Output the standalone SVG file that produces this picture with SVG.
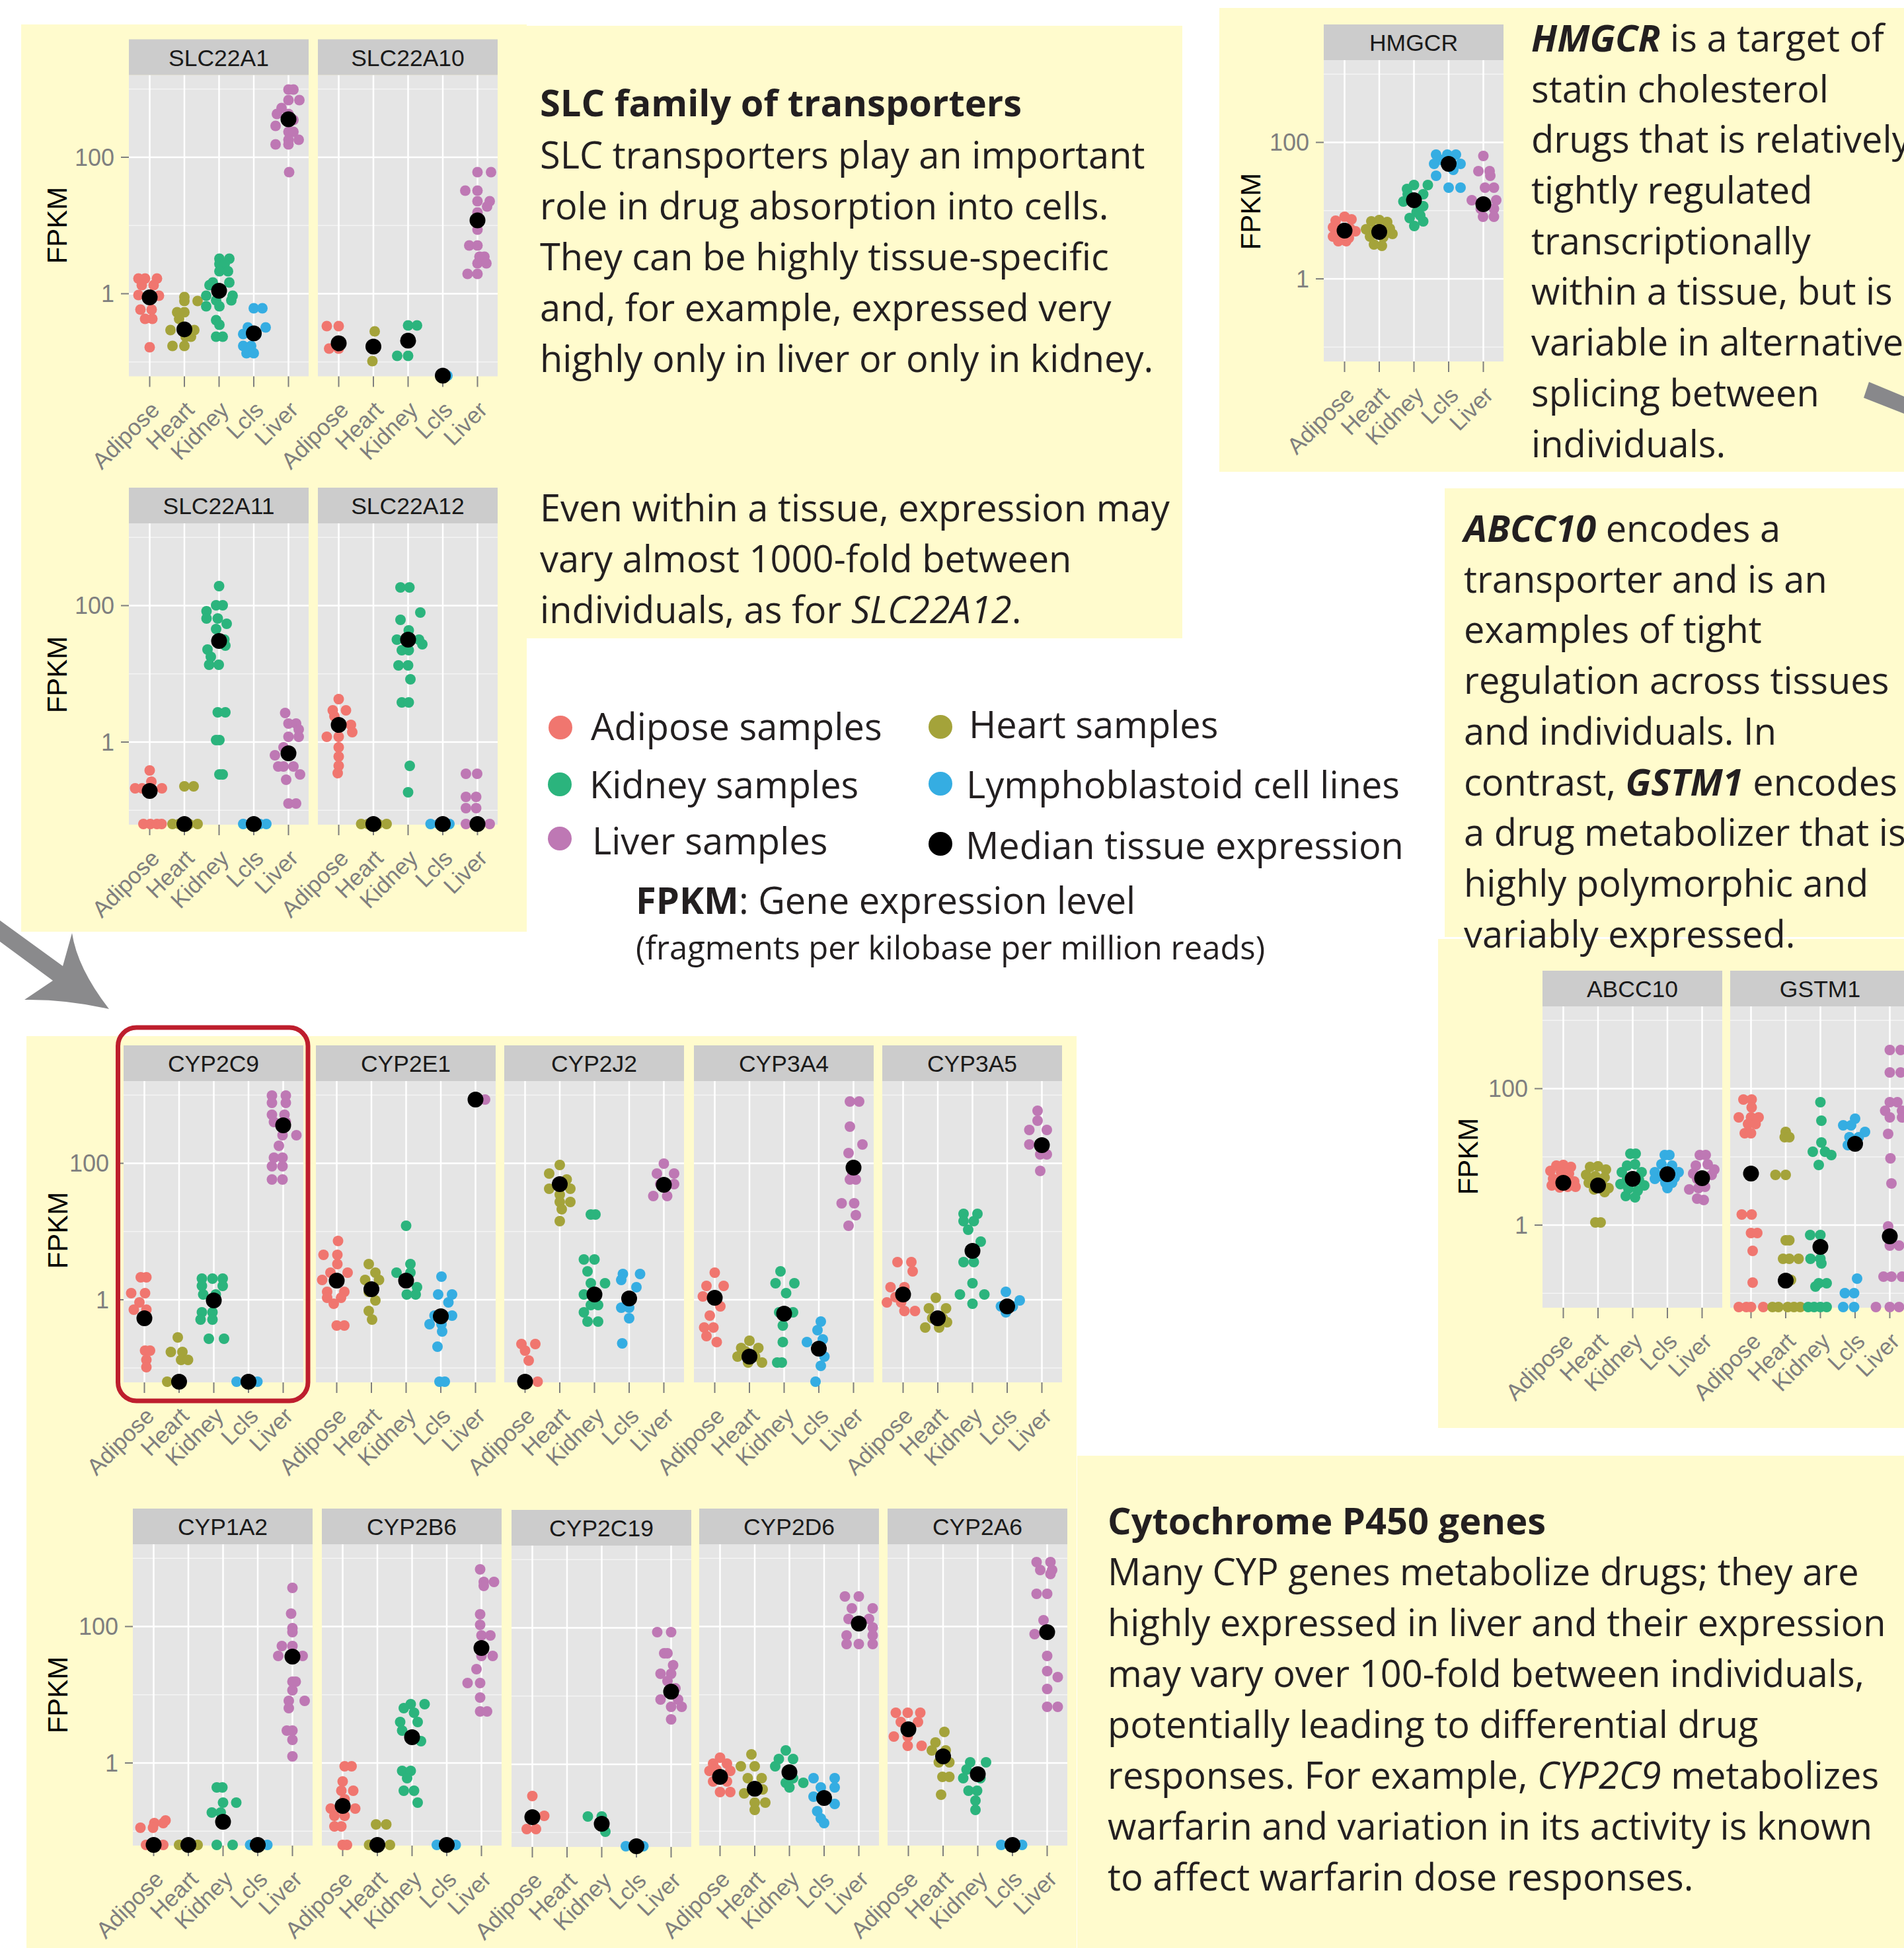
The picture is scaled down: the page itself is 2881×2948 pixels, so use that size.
<svg xmlns="http://www.w3.org/2000/svg" xmlns:xlink="http://www.w3.org/1999/xlink" width="2881" height="2948" viewBox="0 0 2881 2948">
<style>
.bt{font-family:"Open Sans","Liberation Sans",sans-serif;font-size:56px;fill:#231F20}
.b{font-weight:700}
.bi{font-weight:700;font-style:italic}
.i{font-style:italic}
.xt text{font-family:"Liberation Sans",Arial,sans-serif;font-size:35px;fill:#7F7F7F;text-anchor:end}
.yt{font-family:"Liberation Sans",Arial,sans-serif;font-size:36px;fill:#7F7F7F;text-anchor:end}
.st{font-family:"Liberation Sans",Arial,sans-serif;font-size:35.5px;fill:#1A1A1A;text-anchor:middle}
.fp{font-family:"Liberation Sans",Arial,sans-serif;font-size:42px;fill:#000;text-anchor:middle}
.yb{fill:#FFFBCD}
.a{fill:#F0766F}.h{fill:#A4A33A}.k{fill:#2BB47D}.l{fill:#35ADE2}.v{fill:#BE78B4}.m{fill:#000}
</style>
<defs>
<g id="P">
<rect x="0" y="-331" width="272" height="456" fill="#E5E5E5"/>
<path d="M0-309.75H272M0-103.25H272M0 103.25H272" stroke="#F4F4F4" stroke-width="1.3" fill="none"/>
<path d="M0-206.5H272M0 0H272M31.5-331V125M84-331V125M136.5-331V125M189-331V125M241.5-331V125" stroke="#FFFFFF" stroke-width="2.5" fill="none"/>
<rect x="0" y="-385" width="272" height="54" fill="#CCCCCC"/>
<path d="M31.5 125V141M84 125V141M136.5 125V141M189 125V141M241.5 125V141" stroke="#7F7F7F" stroke-width="2"/>
<g class="xt">
<text transform="translate(48.5,178) rotate(-45)">Adipose</text>
<text transform="translate(101,178) rotate(-45)">Heart</text>
<text transform="translate(153.5,178) rotate(-45)">Kidney</text>
<text transform="translate(206,178) rotate(-45)">Lcls</text>
<text transform="translate(258.5,178) rotate(-45)">Liver</text>
</g>
</g>
<g id="Y">
<path d="M-12-206.5H0M-12 0H0" stroke="#7F7F7F" stroke-width="2"/>
<text class="yt" x="-22" y="-194">100</text>
<text class="yt" x="-22" y="12.5">1</text>
</g>
</defs>
<rect width="2881" height="2948" fill="#FFFFFF"/>
<g id="backgrounds">
<rect class="yb" x="32" y="37" width="765" height="1373"/>
<rect class="yb" x="797" y="39" width="992" height="927"/>
<rect class="yb" x="1845" y="12" width="1036" height="702"/>
<rect class="yb" x="2186" y="739" width="695" height="679"/>
<rect class="yb" x="2176" y="1421" width="705" height="740"/>
<rect class="yb" x="40" y="1568" width="1589" height="1380"/>
<rect class="yb" x="1630" y="2203" width="1251" height="745"/>
</g>
<g id="connectors">
<path d="M0 1393L95 1462L109 1412Q117 1465 165 1527Q100 1512 37 1513L80 1484L0 1425Z" fill="#8A8A8C"/>
<path d="M2828 578L2881 600L2881 626L2820 602Z" fill="#88888B"/>
</g>
<g id="slc-text" class="bt">
<text class="b" x="817" y="176">SLC family of transporters</text>
<text x="817" y="255">SLC transporters play an important</text>
<text x="817" y="332">role in drug absorption into cells.</text>
<text x="817" y="409">They can be highly tissue-specific</text>
<text x="817" y="486">and, for example, expressed very</text>
<text x="817" y="563">highly only in liver or only in kidney.</text>
<text x="817" y="789">Even within a tissue, expression may</text>
<text x="817" y="866">vary almost 1000-fold between</text>
<text x="817" y="943">individuals, as for <tspan class="i">SLC22A12</tspan>.</text>
</g>
<g id="hmgcr-text" class="bt">
<text x="2317" y="78"><tspan class="bi">HMGCR</tspan> is a target of</text>
<text x="2317" y="155">statin cholesterol</text>
<text x="2317" y="231">drugs that is relatively</text>
<text x="2317" y="308">tightly regulated</text>
<text x="2317" y="385">transcriptionally</text>
<text x="2317" y="461">within a tissue, but is</text>
<text x="2317" y="538">variable in alternative</text>
<text x="2317" y="615">splicing between</text>
<text x="2317" y="692">individuals.</text>
</g>
<g id="abcc10-text" class="bt">
<text x="2215" y="820"><tspan class="bi">ABCC10</tspan> encodes a</text>
<text x="2215" y="897">transporter and is an</text>
<text x="2215" y="973">examples of tight</text>
<text x="2215" y="1050">regulation across tissues</text>
<text x="2215" y="1127">and individuals. In</text>
<text x="2215" y="1204">contrast, <tspan class="bi">GSTM1</tspan> encodes</text>
<text x="2215" y="1280">a drug metabolizer that is</text>
<text x="2215" y="1357">highly polymorphic and</text>
<text x="2215" y="1434">variably expressed.</text>
</g>
<g id="cyp-text" class="bt">
<text class="b" x="1676" y="2322">Cytochrome P450 genes</text>
<text x="1676" y="2399">Many CYP genes metabolize drugs; they are</text>
<text x="1676" y="2476">highly expressed in liver and their expression</text>
<text x="1676" y="2553">may vary over 100-fold between individuals,</text>
<text x="1676" y="2630">potentially leading to differential drug</text>
<text x="1676" y="2707">responses. For example, <tspan class="i">CYP2C9</tspan> metabolizes</text>
<text x="1676" y="2784">warfarin and variation in its activity is known</text>
<text x="1676" y="2861">to affect warfarin dose responses.</text>
</g>
<g id="legend">
<circle class="a" cx="848" cy="1101" r="18"/>
<circle class="h" cx="1423" cy="1100" r="18"/>
<circle class="k" cx="847" cy="1187" r="18"/>
<circle class="l" cx="1423" cy="1186" r="18"/>
<circle class="v" cx="847" cy="1269" r="18"/>
<circle class="m" cx="1423" cy="1277" r="18"/>
<g class="bt">
<text x="894" y="1120">Adipose samples</text>
<text x="1466" y="1117">Heart samples</text>
<text x="892" y="1208">Kidney samples</text>
<text x="1462" y="1208">Lymphoblastoid cell lines</text>
<text x="896" y="1293">Liver samples</text>
<text x="1461" y="1300">Median tissue expression</text>
<text x="962" y="1383"><tspan class="b">FPKM</tspan>: Gene expression level</text>
<text x="962" y="1452" style="font-size:49px">(fragments per kilobase per million reads)</text>
</g>
</g>
<g id="axes">
<use xlink:href="#Y" href="#Y" x="195" y="444.5"/>
<use xlink:href="#Y" href="#Y" x="195" y="1123"/>
<use xlink:href="#Y" href="#Y" x="2003" y="422"/>
<use xlink:href="#Y" href="#Y" x="2334" y="1854"/>
<use xlink:href="#Y" href="#Y" x="187" y="1967"/>
<use xlink:href="#Y" href="#Y" x="201" y="2668"/>
<text class="fp" transform="translate(101,341) rotate(-90)">FPKM</text>
<text class="fp" transform="translate(101,1021) rotate(-90)">FPKM</text>
<text class="fp" transform="translate(1907,320) rotate(-90)">FPKM</text>
<text class="fp" transform="translate(2236,1750) rotate(-90)">FPKM</text>
<text class="fp" transform="translate(102,1862) rotate(-90)">FPKM</text>
<text class="fp" transform="translate(102,2565) rotate(-90)">FPKM</text>
</g>

<g id="SLC22A1" transform="translate(195,444.5)">
<use xlink:href="#P" href="#P"/><text class="st" x="136" y="-345">SLC22A1</text>
<g class="a"><circle cx="14.5" cy="-23" r="8"/><circle cx="24.5" cy="-23" r="8"/><circle cx="42.5" cy="-23" r="8"/><circle cx="19.5" cy="-13" r="8"/><circle cx="37.5" cy="-13" r="8"/><circle cx="14.5" cy="2" r="8"/><circle cx="29.5" cy="6" r="8"/><circle cx="45.5" cy="3" r="8"/><circle cx="17.5" cy="24" r="8"/><circle cx="34.5" cy="24" r="8"/><circle cx="24.5" cy="38" r="8"/><circle cx="35.5" cy="38" r="8"/><circle cx="31.5" cy="81" r="8"/></g>
<g class="h"><circle cx="84" cy="5" r="8"/><circle cx="84" cy="11" r="8"/><circle cx="104" cy="11" r="8"/><circle cx="73" cy="28" r="8"/><circle cx="84" cy="28" r="8"/><circle cx="76" cy="38" r="8"/><circle cx="63" cy="55" r="8"/><circle cx="99" cy="55" r="8"/><circle cx="86" cy="65" r="8"/><circle cx="94" cy="65" r="8"/><circle cx="66" cy="79" r="8"/><circle cx="84" cy="79" r="8"/></g>
<g class="k"><circle cx="137" cy="-53" r="8"/><circle cx="152" cy="-53" r="8"/><circle cx="137" cy="-45" r="8"/><circle cx="145" cy="-45" r="8"/><circle cx="137" cy="-34" r="8"/><circle cx="150" cy="-34" r="8"/><circle cx="127" cy="-17" r="8"/><circle cx="152" cy="-17" r="8"/><circle cx="122" cy="-13" r="8"/><circle cx="117" cy="3" r="8"/><circle cx="157" cy="3" r="8"/><circle cx="132" cy="10" r="8"/><circle cx="155" cy="10" r="8"/><circle cx="117" cy="19" r="8"/><circle cx="137" cy="19" r="8"/><circle cx="132" cy="40" r="8"/><circle cx="137" cy="47" r="8"/><circle cx="132" cy="65" r="8"/><circle cx="142" cy="65" r="8"/></g>
<g class="l"><circle cx="189" cy="22" r="8"/><circle cx="202" cy="22" r="8"/><circle cx="180" cy="51" r="8"/><circle cx="207" cy="51" r="8"/><circle cx="173" cy="61" r="8"/><circle cx="193" cy="61" r="8"/><circle cx="173" cy="79" r="8"/><circle cx="185" cy="79" r="8"/><circle cx="178" cy="90" r="8"/><circle cx="189" cy="90" r="8"/></g>
<g class="v"><circle cx="241.5" cy="-309" r="8"/><circle cx="249" cy="-309" r="8"/><circle cx="241.5" cy="-293" r="8"/><circle cx="258" cy="-293" r="8"/><circle cx="231" cy="-281" r="8"/><circle cx="224" cy="-272" r="8"/><circle cx="241.5" cy="-272" r="8"/><circle cx="249" cy="-263" r="8"/><circle cx="222" cy="-254" r="8"/><circle cx="241.5" cy="-245" r="8"/><circle cx="249" cy="-245" r="8"/><circle cx="241.5" cy="-233" r="8"/><circle cx="257" cy="-233" r="8"/><circle cx="222" cy="-226" r="8"/><circle cx="241.5" cy="-226" r="8"/><circle cx="242.5" cy="-184" r="8"/></g>
<g class="m"><circle cx="31.5" cy="5.5" r="12"/><circle cx="84" cy="54" r="12"/><circle cx="136.5" cy="-4.6" r="12"/><circle cx="189" cy="60" r="12"/><circle cx="241.5" cy="-264" r="12"/></g>
</g>

<g id="SLC22A10" transform="translate(481,444.5)">
<use xlink:href="#P" href="#P"/><text class="st" x="136" y="-345">SLC22A10</text>
<g class="a"><circle cx="13.5" cy="49" r="8"/><circle cx="31.5" cy="49" r="8"/><circle cx="17" cy="83" r="8"/><circle cx="31.5" cy="83" r="8"/></g>
<g class="h"><circle cx="86" cy="57" r="8"/><circle cx="82.5" cy="102" r="8"/></g>
<g class="k"><circle cx="136.5" cy="48" r="8"/><circle cx="150" cy="48" r="8"/><circle cx="120" cy="94" r="8"/><circle cx="136.5" cy="94" r="8"/></g>
<g class="l"><circle cx="196" cy="124" r="8"/></g>
<g class="v"><circle cx="241.5" cy="-184" r="8"/><circle cx="262" cy="-184" r="8"/><circle cx="223" cy="-156" r="8"/><circle cx="241.5" cy="-156" r="8"/><circle cx="241.5" cy="-140" r="8"/><circle cx="260" cy="-140" r="8"/><circle cx="256" cy="-132" r="8"/><circle cx="241.5" cy="-123" r="8"/><circle cx="241.5" cy="-97" r="8"/><circle cx="229" cy="-73" r="8"/><circle cx="241.5" cy="-73" r="8"/><circle cx="244.5" cy="-56" r="8"/><circle cx="252" cy="-56" r="8"/><circle cx="241.5" cy="-46" r="8"/><circle cx="255" cy="-46" r="8"/><circle cx="226.5" cy="-30" r="8"/><circle cx="241.5" cy="-30" r="8"/></g>
<g class="m"><circle cx="31.5" cy="75" r="12"/><circle cx="84" cy="80" r="12"/><circle cx="136.5" cy="71" r="12"/><circle cx="189" cy="124" r="12"/><circle cx="241.5" cy="-111" r="12"/></g>
</g>

<g id="SLC22A11" transform="translate(195,1123)">
<use xlink:href="#P" href="#P"/><text class="st" x="136" y="-345">SLC22A11</text>
<g class="a"><circle cx="31.5" cy="43" r="8"/><circle cx="34" cy="60" r="8"/><circle cx="9.5" cy="70" r="8"/><circle cx="20" cy="70" r="8"/><circle cx="32.5" cy="70" r="8"/><circle cx="50" cy="70" r="8"/><circle cx="22" cy="124" r="8"/><circle cx="32.5" cy="124" r="8"/><circle cx="42.5" cy="124" r="8"/><circle cx="49.5" cy="124" r="8"/></g>
<g class="h"><circle cx="84" cy="67" r="8"/><circle cx="98" cy="67" r="8"/><circle cx="66" cy="124" r="8"/><circle cx="76" cy="124" r="8"/><circle cx="91" cy="124" r="8"/><circle cx="104" cy="124" r="8"/></g>
<g class="k"><circle cx="136.5" cy="-236" r="8"/><circle cx="132" cy="-207" r="8"/><circle cx="142" cy="-207" r="8"/><circle cx="117.5" cy="-198" r="8"/><circle cx="117.5" cy="-187" r="8"/><circle cx="134.5" cy="-187" r="8"/><circle cx="148" cy="-179" r="8"/><circle cx="132" cy="-171" r="8"/><circle cx="144.5" cy="-155" r="8"/><circle cx="146" cy="-146" r="8"/><circle cx="119" cy="-140" r="8"/><circle cx="124" cy="-129" r="8"/><circle cx="121.5" cy="-117" r="8"/><circle cx="136" cy="-117" r="8"/><circle cx="134.5" cy="-45" r="8"/><circle cx="146" cy="-45" r="8"/><circle cx="132" cy="-3" r="8"/><circle cx="137" cy="-3" r="8"/><circle cx="137" cy="49" r="8"/><circle cx="142" cy="49" r="8"/></g>
<g class="l"><circle cx="173" cy="124" r="8"/><circle cx="185" cy="124" r="8"/><circle cx="198" cy="124" r="8"/><circle cx="208" cy="124" r="8"/></g>
<g class="v"><circle cx="236.5" cy="-44" r="8"/><circle cx="241.5" cy="-28" r="8"/><circle cx="253" cy="-28" r="8"/><circle cx="257" cy="-19" r="8"/><circle cx="241.5" cy="-8" r="8"/><circle cx="257" cy="-8" r="8"/><circle cx="234" cy="8" r="8"/><circle cx="221" cy="20" r="8"/><circle cx="226" cy="37" r="8"/><circle cx="234" cy="37" r="8"/><circle cx="249" cy="37" r="8"/><circle cx="259" cy="49" r="8"/><circle cx="238" cy="57" r="8"/><circle cx="241.5" cy="93" r="8"/><circle cx="253" cy="93" r="8"/></g>
<g class="m"><circle cx="31.5" cy="74" r="12"/><circle cx="84" cy="124" r="12"/><circle cx="136.5" cy="-153" r="12"/><circle cx="189" cy="124" r="12"/><circle cx="241.5" cy="17" r="12"/></g>
</g>

<g id="SLC22A12" transform="translate(481,1123)">
<use xlink:href="#P" href="#P"/><text class="st" x="136" y="-345">SLC22A12</text>
<g class="a"><circle cx="31.5" cy="-65" r="8"/><circle cx="22.5" cy="-48" r="8"/><circle cx="42.5" cy="-48" r="8"/><circle cx="25" cy="-39" r="8"/><circle cx="31.5" cy="-26" r="8"/><circle cx="50" cy="-26" r="8"/><circle cx="52" cy="-15" r="8"/><circle cx="13.5" cy="-8" r="8"/><circle cx="31.5" cy="-8" r="8"/><circle cx="31.5" cy="8" r="8"/><circle cx="31.5" cy="22" r="8"/><circle cx="31.5" cy="36" r="8"/><circle cx="30" cy="47" r="8"/></g>
<g class="h"><circle cx="65.5" cy="124" r="8"/><circle cx="76" cy="124" r="8"/><circle cx="91" cy="124" r="8"/><circle cx="104" cy="124" r="8"/></g>
<g class="k"><circle cx="125" cy="-234" r="8"/><circle cx="138.5" cy="-234" r="8"/><circle cx="155" cy="-196" r="8"/><circle cx="125" cy="-185" r="8"/><circle cx="137.5" cy="-169" r="8"/><circle cx="119.5" cy="-155" r="8"/><circle cx="153" cy="-155" r="8"/><circle cx="158" cy="-148" r="8"/><circle cx="127" cy="-139" r="8"/><circle cx="137.5" cy="-139" r="8"/><circle cx="122" cy="-116" r="8"/><circle cx="136.5" cy="-116" r="8"/><circle cx="140" cy="-95" r="8"/><circle cx="127" cy="-60" r="8"/><circle cx="137.5" cy="-60" r="8"/><circle cx="139" cy="36" r="8"/><circle cx="136.5" cy="76" r="8"/></g>
<g class="l"><circle cx="170.5" cy="124" r="8"/><circle cx="183" cy="124" r="8"/><circle cx="199" cy="124" r="8"/></g>
<g class="v"><circle cx="224" cy="48" r="8"/><circle cx="241" cy="48" r="8"/><circle cx="224" cy="83" r="8"/><circle cx="239.5" cy="83" r="8"/><circle cx="224" cy="100" r="8"/><circle cx="239.5" cy="100" r="8"/><circle cx="224" cy="124" r="8"/><circle cx="241.5" cy="124" r="8"/><circle cx="260" cy="124" r="8"/></g>
<g class="m"><circle cx="31.5" cy="-26" r="12"/><circle cx="84" cy="124" r="12"/><circle cx="136.5" cy="-155" r="12"/><circle cx="189" cy="124" r="12"/><circle cx="241.5" cy="124" r="12"/></g>
</g>

<g id="HMGCR" transform="translate(2003,422)">
<use xlink:href="#P" href="#P"/><text class="st" x="136" y="-345">HMGCR</text>
<g class="a"><circle cx="18" cy="-88" r="8"/><circle cx="31.5" cy="-94" r="8"/><circle cx="42" cy="-90" r="8"/><circle cx="14" cy="-78" r="8"/><circle cx="24" cy="-76" r="8"/><circle cx="40" cy="-76" r="8"/><circle cx="48" cy="-72" r="8"/><circle cx="14" cy="-64" r="8"/><circle cx="26" cy="-62" r="8"/><circle cx="38" cy="-62" r="8"/><circle cx="22" cy="-57" r="8"/><circle cx="34" cy="-57" r="8"/></g>
<g class="h"><circle cx="72" cy="-87" r="8"/><circle cx="84" cy="-89" r="8"/><circle cx="96" cy="-86" r="8"/><circle cx="64" cy="-75" r="8"/><circle cx="78" cy="-74" r="8"/><circle cx="100" cy="-76" r="8"/><circle cx="70" cy="-64" r="8"/><circle cx="90" cy="-63" r="8"/><circle cx="104" cy="-68" r="8"/><circle cx="76" cy="-52" r="8"/><circle cx="88" cy="-50" r="8"/></g>
<g class="k"><circle cx="136.5" cy="-142" r="8"/><circle cx="157.5" cy="-142" r="8"/><circle cx="127" cy="-128" r="8"/><circle cx="150.5" cy="-128" r="8"/><circle cx="120.5" cy="-117" r="8"/><circle cx="150.5" cy="-110" r="8"/><circle cx="140.5" cy="-101" r="8"/><circle cx="150.5" cy="-87" r="8"/><circle cx="137" cy="-80" r="8"/><circle cx="126" cy="-136" r="8"/><circle cx="146" cy="-96" r="8"/><circle cx="130" cy="-92" r="8"/></g>
<g class="l"><circle cx="170" cy="-188" r="8"/><circle cx="187" cy="-188" r="8"/><circle cx="200" cy="-188" r="8"/><circle cx="167" cy="-174" r="8"/><circle cx="207" cy="-174" r="8"/><circle cx="170" cy="-156" r="8"/><circle cx="189" cy="-138" r="8"/><circle cx="207" cy="-138" r="8"/><circle cx="178" cy="-180" r="8"/><circle cx="196" cy="-165" r="8"/></g>
<g class="v"><circle cx="241.5" cy="-186" r="8"/><circle cx="234" cy="-163" r="8"/><circle cx="251" cy="-163" r="8"/><circle cx="252" cy="-156" r="8"/><circle cx="244" cy="-138" r="8"/><circle cx="257.5" cy="-138" r="8"/><circle cx="224" cy="-119" r="8"/><circle cx="261" cy="-119" r="8"/><circle cx="237.5" cy="-106" r="8"/><circle cx="257.5" cy="-106" r="8"/><circle cx="241" cy="-94" r="8"/><circle cx="257.5" cy="-94" r="8"/></g>
<g class="m"><circle cx="31.5" cy="-73" r="12"/><circle cx="84" cy="-71" r="12"/><circle cx="136.5" cy="-119" r="12"/><circle cx="189" cy="-174" r="12"/><circle cx="241.5" cy="-113" r="12"/></g>
</g>

<g id="ABCC10" transform="translate(2334,1854)">
<use xlink:href="#P" href="#P"/><text class="st" x="136" y="-345">ABCC10</text>
<g class="a"><circle cx="21" cy="-90" r="8"/><circle cx="31.5" cy="-91" r="8"/><circle cx="43" cy="-88" r="8"/><circle cx="12" cy="-82" r="8"/><circle cx="28" cy="-80" r="8"/><circle cx="40" cy="-78" r="8"/><circle cx="16" cy="-70" r="8"/><circle cx="24" cy="-68" r="8"/><circle cx="48" cy="-66" r="8"/><circle cx="14" cy="-60" r="8"/><circle cx="26" cy="-57" r="8"/><circle cx="38" cy="-58" r="8"/><circle cx="50" cy="-58" r="8"/></g>
<g class="h"><circle cx="72" cy="-88" r="8"/><circle cx="84" cy="-89" r="8"/><circle cx="96" cy="-84" r="8"/><circle cx="66" cy="-76" r="8"/><circle cx="80" cy="-74" r="8"/><circle cx="94" cy="-72" r="8"/><circle cx="70" cy="-64" r="8"/><circle cx="90" cy="-62" r="8"/><circle cx="100" cy="-56" r="8"/><circle cx="78" cy="-54" r="8"/><circle cx="94" cy="-50" r="8"/><circle cx="80" cy="-4" r="8"/><circle cx="88" cy="-4" r="8"/></g>
<g class="k"><circle cx="133" cy="-108" r="8"/><circle cx="141" cy="-108" r="8"/><circle cx="128" cy="-90" r="8"/><circle cx="140" cy="-92" r="8"/><circle cx="120" cy="-80" r="8"/><circle cx="150" cy="-80" r="8"/><circle cx="128" cy="-70" r="8"/><circle cx="146" cy="-68" r="8"/><circle cx="118" cy="-62" r="8"/><circle cx="154" cy="-60" r="8"/><circle cx="130" cy="-55" r="8"/><circle cx="144" cy="-52" r="8"/><circle cx="126" cy="-44" r="8"/><circle cx="140" cy="-42" r="8"/></g>
<g class="l"><circle cx="185" cy="-106" r="8"/><circle cx="192" cy="-106" r="8"/><circle cx="180" cy="-92" r="8"/><circle cx="196" cy="-90" r="8"/><circle cx="170" cy="-80" r="8"/><circle cx="206" cy="-80" r="8"/><circle cx="178" cy="-74" r="8"/><circle cx="200" cy="-72" r="8"/><circle cx="170" cy="-70" r="8"/><circle cx="186" cy="-64" r="8"/><circle cx="196" cy="-64" r="8"/><circle cx="189" cy="-56" r="8"/></g>
<g class="v"><circle cx="238" cy="-106" r="8"/><circle cx="247" cy="-106" r="8"/><circle cx="232" cy="-90" r="8"/><circle cx="250" cy="-92" r="8"/><circle cx="260" cy="-84" r="8"/><circle cx="228" cy="-78" r="8"/><circle cx="256" cy="-76" r="8"/><circle cx="234" cy="-70" r="8"/><circle cx="222" cy="-54" r="8"/><circle cx="236" cy="-56" r="8"/><circle cx="246" cy="-58" r="8"/><circle cx="234" cy="-40" r="8"/><circle cx="244" cy="-38" r="8"/></g>
<g class="m"><circle cx="31.5" cy="-64" r="12"/><circle cx="84" cy="-60" r="12"/><circle cx="136.5" cy="-70" r="12"/><circle cx="189" cy="-77" r="12"/><circle cx="241.5" cy="-71" r="12"/></g>
</g>

<g id="GSTM1" transform="translate(2618,1854)">
<use xlink:href="#P" href="#P"/><text class="st" x="136" y="-345">GSTM1</text>
<g class="a"><circle cx="20" cy="-190" r="8"/><circle cx="32.5" cy="-190" r="8"/><circle cx="32.5" cy="-178" r="8"/><circle cx="13" cy="-163" r="8"/><circle cx="31.5" cy="-163" r="8"/><circle cx="43" cy="-163" r="8"/><circle cx="27" cy="-153" r="8"/><circle cx="38.5" cy="-153" r="8"/><circle cx="22" cy="-139" r="8"/><circle cx="31.5" cy="-139" r="8"/><circle cx="17.5" cy="-16" r="8"/><circle cx="32.5" cy="-16" r="8"/><circle cx="31.5" cy="12" r="8"/><circle cx="41" cy="12" r="8"/><circle cx="34" cy="39" r="8"/><circle cx="34" cy="87" r="8"/><circle cx="13" cy="124" r="8"/><circle cx="24.5" cy="124" r="8"/><circle cx="31.5" cy="124" r="8"/><circle cx="50" cy="124" r="8"/></g>
<g class="h"><circle cx="84" cy="-141" r="8"/><circle cx="82.5" cy="-133" r="8"/><circle cx="89.5" cy="-133" r="8"/><circle cx="68.5" cy="-76" r="8"/><circle cx="84" cy="-76" r="8"/><circle cx="84" cy="23" r="8"/><circle cx="89.5" cy="23" r="8"/><circle cx="80" cy="51" r="8"/><circle cx="89.5" cy="51" r="8"/><circle cx="103.5" cy="51" r="8"/><circle cx="92" cy="83" r="8"/><circle cx="64" cy="124" r="8"/><circle cx="73" cy="124" r="8"/><circle cx="87" cy="124" r="8"/><circle cx="96.5" cy="124" r="8"/><circle cx="106" cy="124" r="8"/></g>
<g class="k"><circle cx="136.5" cy="-186" r="8"/><circle cx="138" cy="-158" r="8"/><circle cx="138" cy="-125" r="8"/><circle cx="125" cy="-111" r="8"/><circle cx="143.5" cy="-111" r="8"/><circle cx="153" cy="-106" r="8"/><circle cx="134" cy="-91" r="8"/><circle cx="121" cy="15" r="8"/><circle cx="136.5" cy="15" r="8"/><circle cx="121.5" cy="51" r="8"/><circle cx="136.5" cy="51" r="8"/><circle cx="138" cy="58" r="8"/><circle cx="134" cy="88" r="8"/><circle cx="146" cy="88" r="8"/><circle cx="129" cy="93" r="8"/><circle cx="118" cy="124" r="8"/><circle cx="127" cy="124" r="8"/><circle cx="136.5" cy="124" r="8"/><circle cx="146" cy="124" r="8"/></g>
<g class="l"><circle cx="189" cy="-161" r="8"/><circle cx="171" cy="-151" r="8"/><circle cx="183" cy="-151" r="8"/><circle cx="204" cy="-141" r="8"/><circle cx="180.5" cy="-133" r="8"/><circle cx="194.5" cy="-133" r="8"/><circle cx="178" cy="-121" r="8"/><circle cx="192" cy="81" r="8"/><circle cx="173.5" cy="103" r="8"/><circle cx="187.5" cy="103" r="8"/><circle cx="171" cy="124" r="8"/><circle cx="187.5" cy="124" r="8"/></g>
<g class="v"><circle cx="241.5" cy="-265" r="8"/><circle cx="258" cy="-265" r="8"/><circle cx="241.5" cy="-231" r="8"/><circle cx="258" cy="-231" r="8"/><circle cx="241.5" cy="-186" r="8"/><circle cx="253" cy="-186" r="8"/><circle cx="234.5" cy="-173" r="8"/><circle cx="260" cy="-173" r="8"/><circle cx="241.5" cy="-163" r="8"/><circle cx="260" cy="-163" r="8"/><circle cx="239" cy="-138" r="8"/><circle cx="242.5" cy="-101" r="8"/><circle cx="244" cy="-63" r="8"/><circle cx="239" cy="2" r="8"/><circle cx="241.5" cy="31" r="8"/><circle cx="255.5" cy="31" r="8"/><circle cx="232" cy="78" r="8"/><circle cx="244" cy="78" r="8"/><circle cx="260" cy="78" r="8"/><circle cx="220.5" cy="124" r="8"/><circle cx="241.5" cy="124" r="8"/><circle cx="255.5" cy="124" r="8"/></g>
<g class="m"><circle cx="31.5" cy="-78" r="12"/><circle cx="84" cy="84" r="12"/><circle cx="136.5" cy="33" r="12"/><circle cx="189" cy="-123" r="12"/><circle cx="241.5" cy="17" r="12"/></g>
</g>

<g id="CYP2C9" transform="translate(187,1967)">
<use xlink:href="#P" href="#P"/><text class="st" x="136" y="-345">CYP2C9</text>
<g class="a"><circle cx="26" cy="-34" r="8"/><circle cx="34.5" cy="-34" r="8"/><circle cx="11.5" cy="-10" r="8"/><circle cx="32.5" cy="-10" r="8"/><circle cx="24" cy="4" r="8"/><circle cx="15.5" cy="15" r="8"/><circle cx="34.5" cy="15" r="8"/><circle cx="29.5" cy="28" r="8"/><circle cx="32.5" cy="77" r="8"/><circle cx="40" cy="77" r="8"/><circle cx="34.5" cy="91" r="8"/><circle cx="34.5" cy="102" r="8"/></g>
<g class="h"><circle cx="82" cy="57" r="8"/><circle cx="71.5" cy="79" r="8"/><circle cx="89" cy="79" r="8"/><circle cx="87" cy="91" r="8"/><circle cx="97.5" cy="91" r="8"/><circle cx="66" cy="124" r="8"/><circle cx="84" cy="124" r="8"/></g>
<g class="k"><circle cx="118.5" cy="-32" r="8"/><circle cx="134.5" cy="-32" r="8"/><circle cx="150" cy="-32" r="8"/><circle cx="118.5" cy="-21" r="8"/><circle cx="150" cy="-21" r="8"/><circle cx="120.5" cy="-8" r="8"/><circle cx="139.5" cy="-8" r="8"/><circle cx="118.5" cy="19" r="8"/><circle cx="134.5" cy="19" r="8"/><circle cx="116.5" cy="30" r="8"/><circle cx="134.5" cy="30" r="8"/><circle cx="129" cy="59" r="8"/><circle cx="152" cy="59" r="8"/></g>
<g class="l"><circle cx="171" cy="124" r="8"/><circle cx="189" cy="124" r="8"/><circle cx="202.5" cy="124" r="8"/></g>
<g class="v"><circle cx="224.5" cy="-309" r="8"/><circle cx="245.5" cy="-309" r="8"/><circle cx="224.5" cy="-298" r="8"/><circle cx="245.5" cy="-298" r="8"/><circle cx="224.5" cy="-280" r="8"/><circle cx="243.5" cy="-280" r="8"/><circle cx="227.5" cy="-269" r="8"/><circle cx="245.5" cy="-269" r="8"/><circle cx="240.5" cy="-249" r="8"/><circle cx="261.5" cy="-249" r="8"/><circle cx="235" cy="-233" r="8"/><circle cx="227.5" cy="-215" r="8"/><circle cx="240.5" cy="-215" r="8"/><circle cx="224.5" cy="-202" r="8"/><circle cx="240.5" cy="-202" r="8"/><circle cx="224.5" cy="-182" r="8"/><circle cx="240.5" cy="-182" r="8"/></g>
<g class="m"><circle cx="31.5" cy="28" r="12"/><circle cx="84" cy="124" r="12"/><circle cx="136.5" cy="1" r="12"/><circle cx="189" cy="124" r="12"/><circle cx="241.5" cy="-264" r="12"/></g>
</g>

<g id="CYP2E1" transform="translate(478,1967)">
<use xlink:href="#P" href="#P"/><text class="st" x="136" y="-345">CYP2E1</text>
<g class="a"><circle cx="33.5" cy="-89" r="8"/><circle cx="11.5" cy="-68" r="8"/><circle cx="32.5" cy="-68" r="8"/><circle cx="32.5" cy="-54" r="8"/><circle cx="22" cy="-41" r="8"/><circle cx="48" cy="-41" r="8"/><circle cx="9.5" cy="-30" r="8"/><circle cx="17" cy="-12" r="8"/><circle cx="43" cy="-12" r="8"/><circle cx="17" cy="-3" r="8"/><circle cx="38" cy="-3" r="8"/><circle cx="27" cy="6" r="8"/><circle cx="31.5" cy="39" r="8"/><circle cx="43" cy="39" r="8"/></g>
<g class="h"><circle cx="80" cy="-54" r="8"/><circle cx="90" cy="-41" r="8"/><circle cx="74.5" cy="-30" r="8"/><circle cx="95.5" cy="-30" r="8"/><circle cx="80" cy="-12" r="8"/><circle cx="90" cy="1" r="8"/><circle cx="80" cy="17" r="8"/><circle cx="85" cy="30" r="8"/></g>
<g class="k"><circle cx="136.5" cy="-112" r="8"/><circle cx="143" cy="-54" r="8"/><circle cx="122" cy="-41" r="8"/><circle cx="143" cy="-41" r="8"/><circle cx="135.5" cy="-28" r="8"/><circle cx="153" cy="-19" r="8"/><circle cx="137.5" cy="-8" r="8"/><circle cx="151" cy="-8" r="8"/></g>
<g class="l"><circle cx="190" cy="-35" r="8"/><circle cx="185" cy="-8" r="8"/><circle cx="206" cy="-8" r="8"/><circle cx="200.5" cy="4" r="8"/><circle cx="179.5" cy="24" r="8"/><circle cx="206" cy="24" r="8"/><circle cx="172" cy="37" r="8"/><circle cx="190" cy="37" r="8"/><circle cx="191" cy="48" r="8"/><circle cx="184" cy="71" r="8"/><circle cx="187" cy="124" r="8"/><circle cx="195" cy="124" r="8"/></g>
<g class="v"><circle cx="256" cy="-303" r="8"/></g>
<g class="m"><circle cx="31.5" cy="-29" r="12"/><circle cx="84" cy="-16" r="12"/><circle cx="136.5" cy="-29" r="12"/><circle cx="189" cy="25" r="12"/><circle cx="241.5" cy="-303" r="12"/></g>
</g>

<g id="CYP2J2" transform="translate(763,1967)">
<use xlink:href="#P" href="#P"/><text class="st" x="136" y="-345">CYP2J2</text>
<g class="a"><circle cx="26" cy="67" r="8"/><circle cx="47" cy="67" r="8"/><circle cx="31.5" cy="77" r="8"/><circle cx="37" cy="92" r="8"/><circle cx="50.5" cy="124" r="8"/></g>
<g class="h"><circle cx="84" cy="-204" r="8"/><circle cx="68" cy="-191" r="8"/><circle cx="94.5" cy="-182" r="8"/><circle cx="68" cy="-168" r="8"/><circle cx="100" cy="-168" r="8"/><circle cx="84" cy="-159" r="8"/><circle cx="84" cy="-148" r="8"/><circle cx="100" cy="-148" r="8"/><circle cx="87" cy="-137" r="8"/><circle cx="84" cy="-119" r="8"/></g>
<g class="k"><circle cx="131" cy="-129" r="8"/><circle cx="138" cy="-129" r="8"/><circle cx="120.5" cy="-61" r="8"/><circle cx="136.5" cy="-61" r="8"/><circle cx="126" cy="-43" r="8"/><circle cx="152.5" cy="-25" r="8"/><circle cx="131" cy="-25" r="8"/><circle cx="120.5" cy="-8" r="8"/><circle cx="131" cy="8" r="8"/><circle cx="142" cy="8" r="8"/><circle cx="120.5" cy="19" r="8"/><circle cx="126" cy="33" r="8"/><circle cx="142" cy="33" r="8"/></g>
<g class="l"><circle cx="179.5" cy="-39" r="8"/><circle cx="205.5" cy="-39" r="8"/><circle cx="177" cy="-30" r="8"/><circle cx="200" cy="-19" r="8"/><circle cx="189" cy="-5" r="8"/><circle cx="177" cy="12" r="8"/><circle cx="189" cy="12" r="8"/><circle cx="189" cy="28" r="8"/><circle cx="178.5" cy="66" r="8"/></g>
<g class="v"><circle cx="241.5" cy="-206" r="8"/><circle cx="231" cy="-191" r="8"/><circle cx="257" cy="-191" r="8"/><circle cx="236" cy="-175" r="8"/><circle cx="257" cy="-175" r="8"/><circle cx="225.5" cy="-157" r="8"/><circle cx="246.5" cy="-157" r="8"/></g>
<g class="m"><circle cx="31.5" cy="124" r="12"/><circle cx="84" cy="-175" r="12"/><circle cx="136.5" cy="-8" r="12"/><circle cx="189" cy="-2" r="12"/><circle cx="241.5" cy="-174" r="12"/></g>
</g>

<g id="CYP3A4" transform="translate(1050,1967)">
<use xlink:href="#P" href="#P"/><text class="st" x="136" y="-345">CYP3A4</text>
<g class="a"><circle cx="31.5" cy="-41" r="8"/><circle cx="19" cy="-21" r="8"/><circle cx="45" cy="-21" r="8"/><circle cx="13.5" cy="-5" r="8"/><circle cx="40" cy="10" r="8"/><circle cx="24" cy="24" r="8"/><circle cx="15.5" cy="42" r="8"/><circle cx="29.5" cy="42" r="8"/><circle cx="19" cy="55" r="8"/><circle cx="34.5" cy="64" r="8"/></g>
<g class="h"><circle cx="84" cy="62" r="8"/><circle cx="71.5" cy="73" r="8"/><circle cx="97.5" cy="73" r="8"/><circle cx="66" cy="86" r="8"/><circle cx="92.5" cy="86" r="8"/><circle cx="82" cy="95" r="8"/><circle cx="103" cy="95" r="8"/><circle cx="78" cy="78" r="8"/></g>
<g class="k"><circle cx="131" cy="-43" r="8"/><circle cx="123.5" cy="-25" r="8"/><circle cx="152" cy="-25" r="8"/><circle cx="139.5" cy="-10" r="8"/><circle cx="129" cy="19" r="8"/><circle cx="150" cy="19" r="8"/><circle cx="134.5" cy="39" r="8"/><circle cx="134.5" cy="64" r="8"/><circle cx="126" cy="95" r="8"/><circle cx="133" cy="95" r="8"/></g>
<g class="l"><circle cx="192" cy="33" r="8"/><circle cx="187" cy="46" r="8"/><circle cx="171" cy="64" r="8"/><circle cx="197.5" cy="86" r="8"/><circle cx="192" cy="100" r="8"/><circle cx="184" cy="124" r="8"/><circle cx="195" cy="60" r="8"/></g>
<g class="v"><circle cx="236" cy="-300" r="8"/><circle cx="250" cy="-300" r="8"/><circle cx="236" cy="-262" r="8"/><circle cx="255" cy="-235" r="8"/><circle cx="234" cy="-222" r="8"/><circle cx="236" cy="-182" r="8"/><circle cx="245" cy="-182" r="8"/><circle cx="223.5" cy="-146" r="8"/><circle cx="242.5" cy="-146" r="8"/><circle cx="245" cy="-128" r="8"/><circle cx="234" cy="-112" r="8"/><circle cx="240" cy="-190" r="8"/></g>
<g class="m"><circle cx="31.5" cy="-3" r="12"/><circle cx="84" cy="86" r="12"/><circle cx="136.5" cy="21" r="12"/><circle cx="189" cy="74" r="12"/><circle cx="241.5" cy="-200" r="12"/></g>
</g>

<g id="CYP3A5" transform="translate(1335,1967)">
<use xlink:href="#P" href="#P"/><text class="st" x="136" y="-345">CYP3A5</text>
<g class="a"><circle cx="23" cy="-57" r="8"/><circle cx="44" cy="-57" r="8"/><circle cx="46" cy="-43" r="8"/><circle cx="12.5" cy="-19" r="8"/><circle cx="33.5" cy="-19" r="8"/><circle cx="7" cy="4" r="8"/><circle cx="28.5" cy="4" r="8"/><circle cx="33.5" cy="17" r="8"/><circle cx="49.5" cy="17" r="8"/><circle cx="20" cy="-4" r="8"/></g>
<g class="h"><circle cx="81" cy="-3" r="8"/><circle cx="70.5" cy="13" r="8"/><circle cx="96.5" cy="13" r="8"/><circle cx="75.5" cy="28" r="8"/><circle cx="91.5" cy="28" r="8"/><circle cx="65" cy="42" r="8"/><circle cx="86" cy="42" r="8"/><circle cx="98" cy="34" r="8"/></g>
<g class="k"><circle cx="123" cy="-130" r="8"/><circle cx="144" cy="-130" r="8"/><circle cx="123" cy="-119" r="8"/><circle cx="138.5" cy="-119" r="8"/><circle cx="130" cy="-106" r="8"/><circle cx="149" cy="-88" r="8"/><circle cx="123" cy="-57" r="8"/><circle cx="138.5" cy="-57" r="8"/><circle cx="136.5" cy="-25" r="8"/><circle cx="117.5" cy="-8" r="8"/><circle cx="154.5" cy="-8" r="8"/><circle cx="136.5" cy="6" r="8"/></g>
<g class="l"><circle cx="187" cy="-12" r="8"/><circle cx="208" cy="1" r="8"/><circle cx="179.5" cy="10" r="8"/><circle cx="197.5" cy="10" r="8"/><circle cx="187" cy="19" r="8"/></g>
<g class="v"><circle cx="235" cy="-286" r="8"/><circle cx="235" cy="-271" r="8"/><circle cx="222.5" cy="-257" r="8"/><circle cx="249" cy="-257" r="8"/><circle cx="222.5" cy="-235" r="8"/><circle cx="243.5" cy="-235" r="8"/><circle cx="239" cy="-220" r="8"/><circle cx="249" cy="-220" r="8"/><circle cx="239" cy="-195" r="8"/></g>
<g class="m"><circle cx="31.5" cy="-8" r="12"/><circle cx="84" cy="28" r="12"/><circle cx="136.5" cy="-74" r="12"/><circle cx="189" cy="10" r="12"/><circle cx="241.5" cy="-234" r="12"/></g>
</g>

<g id="CYP1A2" transform="translate(201,2668)">
<use xlink:href="#P" href="#P"/><text class="st" x="136" y="-345">CYP1A2</text>
<g class="a"><circle cx="49.5" cy="87" r="8"/><circle cx="32.5" cy="91" r="8"/><circle cx="46" cy="91" r="8"/><circle cx="11.5" cy="98" r="8"/><circle cx="30.5" cy="98" r="8"/><circle cx="20" cy="124" r="8"/><circle cx="46" cy="124" r="8"/></g>
<g class="h"><circle cx="70" cy="124" r="8"/><circle cx="98" cy="124" r="8"/></g>
<g class="k"><circle cx="127" cy="37" r="8"/><circle cx="135.5" cy="37" r="8"/><circle cx="136.5" cy="60" r="8"/><circle cx="156.5" cy="60" r="8"/><circle cx="119.5" cy="75" r="8"/><circle cx="133" cy="75" r="8"/><circle cx="127" cy="124" r="8"/><circle cx="151" cy="124" r="8"/></g>
<g class="l"><circle cx="177.5" cy="124" r="8"/><circle cx="203.5" cy="124" r="8"/></g>
<g class="v"><circle cx="241.5" cy="-265" r="8"/><circle cx="239.5" cy="-226" r="8"/><circle cx="241.5" cy="-204" r="8"/><circle cx="241.5" cy="-198" r="8"/><circle cx="225.5" cy="-177" r="8"/><circle cx="241.5" cy="-177" r="8"/><circle cx="220" cy="-162" r="8"/><circle cx="257" cy="-162" r="8"/><circle cx="241.5" cy="-123" r="8"/><circle cx="246.5" cy="-123" r="8"/><circle cx="241.5" cy="-110" r="8"/><circle cx="236" cy="-94" r="8"/><circle cx="260" cy="-94" r="8"/><circle cx="236" cy="-83" r="8"/><circle cx="233" cy="-49" r="8"/><circle cx="241.5" cy="-49" r="8"/><circle cx="241.5" cy="-35" r="8"/><circle cx="241.5" cy="-10" r="8"/></g>
<g class="m"><circle cx="31.5" cy="124" r="12"/><circle cx="84" cy="124" r="12"/><circle cx="136.5" cy="89" r="12"/><circle cx="189" cy="124" r="12"/><circle cx="241.5" cy="-161" r="12"/></g>
</g>

<g id="CYP2B6" transform="translate(487,2668)">
<use xlink:href="#P" href="#P"/><text class="st" x="136" y="-345">CYP2B6</text>
<g class="a"><circle cx="34.5" cy="5" r="8"/><circle cx="45" cy="5" r="8"/><circle cx="31.5" cy="28" r="8"/><circle cx="29.5" cy="42" r="8"/><circle cx="47.5" cy="42" r="8"/><circle cx="34.5" cy="55" r="8"/><circle cx="13.5" cy="69" r="8"/><circle cx="50.5" cy="69" r="8"/><circle cx="19" cy="80" r="8"/><circle cx="34.5" cy="80" r="8"/><circle cx="19" cy="96" r="8"/><circle cx="29.5" cy="96" r="8"/><circle cx="31.5" cy="124" r="8"/><circle cx="38" cy="124" r="8"/></g>
<g class="h"><circle cx="82" cy="93" r="8"/><circle cx="97.5" cy="93" r="8"/><circle cx="71.5" cy="124" r="8"/><circle cx="87" cy="124" r="8"/><circle cx="103" cy="124" r="8"/></g>
<g class="k"><circle cx="134.5" cy="-89" r="8"/><circle cx="155.5" cy="-89" r="8"/><circle cx="124" cy="-83" r="8"/><circle cx="139.5" cy="-76" r="8"/><circle cx="118.5" cy="-62" r="8"/><circle cx="145" cy="-62" r="8"/><circle cx="121.5" cy="-49" r="8"/><circle cx="150" cy="-33" r="8"/><circle cx="121.5" cy="12" r="8"/><circle cx="134.5" cy="12" r="8"/><circle cx="129" cy="23" r="8"/><circle cx="124" cy="42" r="8"/><circle cx="139.5" cy="42" r="8"/><circle cx="145" cy="60" r="8"/></g>
<g class="l"><circle cx="174" cy="124" r="8"/><circle cx="202.5" cy="124" r="8"/></g>
<g class="v"><circle cx="239.5" cy="-293" r="8"/><circle cx="245" cy="-274" r="8"/><circle cx="260.5" cy="-274" r="8"/><circle cx="245" cy="-268" r="8"/><circle cx="239.5" cy="-225" r="8"/><circle cx="239.5" cy="-209" r="8"/><circle cx="241.5" cy="-193" r="8"/><circle cx="255" cy="-193" r="8"/><circle cx="241.5" cy="-162" r="8"/><circle cx="258.5" cy="-162" r="8"/><circle cx="234" cy="-142" r="8"/><circle cx="220.5" cy="-121" r="8"/><circle cx="239.5" cy="-121" r="8"/><circle cx="239.5" cy="-99" r="8"/><circle cx="239.5" cy="-78" r="8"/><circle cx="250" cy="-78" r="8"/></g>
<g class="m"><circle cx="31.5" cy="65" r="12"/><circle cx="84" cy="124" r="12"/><circle cx="136.5" cy="-39" r="12"/><circle cx="189" cy="124" r="12"/><circle cx="241.5" cy="-174" r="12"/></g>
</g>

<g id="CYP2C19" transform="translate(774,2670)">
<use xlink:href="#P" href="#P"/><text class="st" x="136" y="-345">CYP2C19</text>
<g class="a"><circle cx="31.5" cy="48" r="8"/><circle cx="49.5" cy="78" r="8"/><circle cx="23" cy="98" r="8"/><circle cx="37" cy="98" r="8"/></g>
<g class="k"><circle cx="115.5" cy="79" r="8"/><circle cx="136.5" cy="79" r="8"/><circle cx="142" cy="102" r="8"/></g>
<g class="l"><circle cx="173" cy="124" r="8"/><circle cx="199.5" cy="124" r="8"/></g>
<g class="v"><circle cx="220.5" cy="-200" r="8"/><circle cx="241.5" cy="-200" r="8"/><circle cx="231" cy="-168" r="8"/><circle cx="236" cy="-168" r="8"/><circle cx="244.5" cy="-150" r="8"/><circle cx="225.5" cy="-137" r="8"/><circle cx="241.5" cy="-137" r="8"/><circle cx="236" cy="-126" r="8"/><circle cx="225.5" cy="-98" r="8"/><circle cx="252" cy="-98" r="8"/><circle cx="241.5" cy="-87" r="8"/><circle cx="257.5" cy="-87" r="8"/><circle cx="241.5" cy="-68" r="8"/><circle cx="248" cy="-115" r="8"/></g>
<g class="m"><circle cx="31.5" cy="80" r="12"/><circle cx="136.5" cy="90" r="12"/><circle cx="189" cy="124" r="12"/><circle cx="241.5" cy="-110" r="12"/></g>
</g>

<g id="CYP2D6" transform="translate(1058,2668)">
<use xlink:href="#P" href="#P"/><text class="st" x="136" y="-345">CYP2D6</text>
<g class="a"><circle cx="31.5" cy="-8" r="8"/><circle cx="21" cy="1" r="8"/><circle cx="42" cy="1" r="8"/><circle cx="15.5" cy="12" r="8"/><circle cx="47" cy="12" r="8"/><circle cx="21" cy="28" r="8"/><circle cx="42" cy="28" r="8"/><circle cx="31.5" cy="44" r="8"/><circle cx="47" cy="44" r="8"/><circle cx="26" cy="10" r="8"/></g>
<g class="h"><circle cx="79" cy="-13" r="8"/><circle cx="63" cy="5" r="8"/><circle cx="84" cy="5" r="8"/><circle cx="73.5" cy="23" r="8"/><circle cx="94.5" cy="23" r="8"/><circle cx="68" cy="46" r="8"/><circle cx="84" cy="60" r="8"/><circle cx="100" cy="60" r="8"/><circle cx="84" cy="71" r="8"/><circle cx="96" cy="40" r="8"/></g>
<g class="k"><circle cx="131" cy="-19" r="8"/><circle cx="120.5" cy="-6" r="8"/><circle cx="142" cy="-6" r="8"/><circle cx="115" cy="5" r="8"/><circle cx="142" cy="23" r="8"/><circle cx="131" cy="30" r="8"/><circle cx="157.5" cy="30" r="8"/><circle cx="136.5" cy="37" r="8"/></g>
<g class="l"><circle cx="173" cy="23" r="8"/><circle cx="205" cy="23" r="8"/><circle cx="184" cy="37" r="8"/><circle cx="205" cy="37" r="8"/><circle cx="173" cy="51" r="8"/><circle cx="205" cy="62" r="8"/><circle cx="178.5" cy="73" r="8"/><circle cx="184" cy="84" r="8"/><circle cx="189" cy="91" r="8"/></g>
<g class="v"><circle cx="220.5" cy="-252" r="8"/><circle cx="241.5" cy="-252" r="8"/><circle cx="231" cy="-234" r="8"/><circle cx="262.5" cy="-234" r="8"/><circle cx="226" cy="-218" r="8"/><circle cx="257" cy="-218" r="8"/><circle cx="262.5" cy="-205" r="8"/><circle cx="223" cy="-193" r="8"/><circle cx="262.5" cy="-193" r="8"/><circle cx="223" cy="-180" r="8"/><circle cx="241.5" cy="-180" r="8"/><circle cx="262.5" cy="-180" r="8"/></g>
<g class="m"><circle cx="31.5" cy="21" r="12"/><circle cx="84" cy="39" r="12"/><circle cx="136.5" cy="14" r="12"/><circle cx="189" cy="53" r="12"/><circle cx="241.5" cy="-211" r="12"/></g>
</g>

<g id="CYP2A6" transform="translate(1343,2668)">
<use xlink:href="#P" href="#P"/><text class="st" x="136" y="-345">CYP2A6</text>
<g class="a"><circle cx="12.5" cy="-76" r="8"/><circle cx="30.5" cy="-76" r="8"/><circle cx="49.5" cy="-76" r="8"/><circle cx="20" cy="-62" r="8"/><circle cx="46" cy="-62" r="8"/><circle cx="9.5" cy="-40" r="8"/><circle cx="30.5" cy="-40" r="8"/><circle cx="30.5" cy="-26" r="8"/><circle cx="51.5" cy="-26" r="8"/></g>
<g class="h"><circle cx="86" cy="-47" r="8"/><circle cx="72.5" cy="-31" r="8"/><circle cx="67" cy="-19" r="8"/><circle cx="88" cy="-19" r="8"/><circle cx="77.5" cy="-1" r="8"/><circle cx="93.5" cy="-1" r="8"/><circle cx="83" cy="21" r="8"/><circle cx="93.5" cy="21" r="8"/><circle cx="81" cy="48" r="8"/></g>
<g class="k"><circle cx="125" cy="-1" r="8"/><circle cx="149" cy="-1" r="8"/><circle cx="119.5" cy="10" r="8"/><circle cx="114.5" cy="23" r="8"/><circle cx="140.5" cy="23" r="8"/><circle cx="122.5" cy="42" r="8"/><circle cx="135.5" cy="42" r="8"/><circle cx="133" cy="57" r="8"/><circle cx="133" cy="71" r="8"/></g>
<g class="l"><circle cx="172" cy="124" r="8"/><circle cx="203.5" cy="124" r="8"/></g>
<g class="v"><circle cx="225.5" cy="-304" r="8"/><circle cx="246.5" cy="-304" r="8"/><circle cx="231" cy="-292" r="8"/><circle cx="249" cy="-292" r="8"/><circle cx="246.5" cy="-286" r="8"/><circle cx="225.5" cy="-256" r="8"/><circle cx="241.5" cy="-256" r="8"/><circle cx="236" cy="-216" r="8"/><circle cx="222.5" cy="-195" r="8"/><circle cx="241.5" cy="-162" r="8"/><circle cx="241.5" cy="-139" r="8"/><circle cx="257.5" cy="-130" r="8"/><circle cx="241.5" cy="-112" r="8"/><circle cx="241.5" cy="-85" r="8"/><circle cx="257.5" cy="-85" r="8"/></g>
<g class="m"><circle cx="31.5" cy="-51" r="12"/><circle cx="84" cy="-10" r="12"/><circle cx="136.5" cy="17" r="12"/><circle cx="189" cy="124" r="12"/><circle cx="241.5" cy="-198" r="12"/></g>
</g>

<g id="highlight">
<rect x="178.5" y="1555" width="287.5" height="565" rx="28" fill="none" stroke="#BE1E2D" stroke-width="7"/>
</g>
</svg>
